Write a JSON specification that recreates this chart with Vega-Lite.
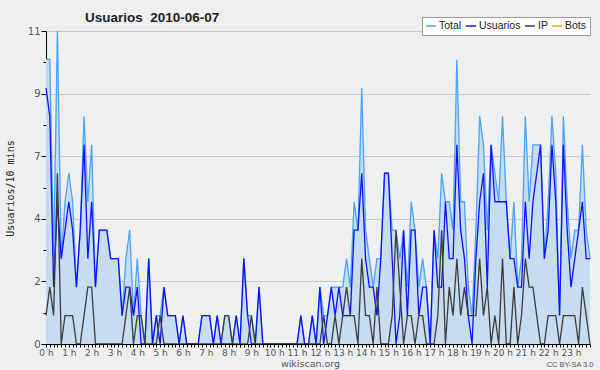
{
"$schema": "https://vega.github.io/schema/vega-lite/v6.json",
"width": 544, "height": 313,
"autosize": "none",
"padding": {"left": 46, "top": 31, "right": 10, "bottom": 26},
"background": "#eeeff1",
"config": {"view": {"stroke": null, "fill": "#eeeff1"}, "font": "DejaVu Sans"},
"title": {"text": "Usuarios\u00a0 2010-06-07", "anchor": "start", "frame": "group", "dx": 39, "dy": 18, "offset": 10, "font": "Liberation Sans", "fontSize": 13.5, "fontWeight": "bold", "color": "#222222"},
"data": {"values": [
{"m":0,"Total":10,"Usuarios":9,"IP":1},{"m":10,"Total":10,"Usuarios":8,"IP":2},{"m":20,"Total":3,"Usuarios":2,"IP":1},{"m":30,"Total":11,"Usuarios":5,"IP":6},{"m":40,"Total":3,"Usuarios":3,"IP":0},{"m":50,"Total":5,"Usuarios":4,"IP":1},{"m":60,"Total":6,"Usuarios":5,"IP":1},{"m":70,"Total":5,"Usuarios":4,"IP":1},{"m":80,"Total":2,"Usuarios":2,"IP":0},{"m":90,"Total":4,"Usuarios":4,"IP":0},
{"m":100,"Total":8,"Usuarios":7,"IP":1},{"m":110,"Total":5,"Usuarios":3,"IP":2},{"m":120,"Total":7,"Usuarios":5,"IP":2},{"m":130,"Total":2,"Usuarios":2,"IP":0},{"m":140,"Total":4,"Usuarios":4,"IP":0},{"m":150,"Total":4,"Usuarios":4,"IP":0},{"m":160,"Total":4,"Usuarios":4,"IP":0},{"m":170,"Total":3,"Usuarios":3,"IP":0},{"m":180,"Total":3,"Usuarios":3,"IP":0},{"m":190,"Total":3,"Usuarios":3,"IP":0},
{"m":200,"Total":1,"Usuarios":1,"IP":0},{"m":210,"Total":3,"Usuarios":2,"IP":1},{"m":220,"Total":4,"Usuarios":2,"IP":2},{"m":230,"Total":1,"Usuarios":1,"IP":0},{"m":240,"Total":3,"Usuarios":2,"IP":1},{"m":250,"Total":1,"Usuarios":0,"IP":1},{"m":260,"Total":0,"Usuarios":0,"IP":0},{"m":270,"Total":3,"Usuarios":3,"IP":0},{"m":280,"Total":0,"Usuarios":0,"IP":0},{"m":290,"Total":1,"Usuarios":1,"IP":0},
{"m":300,"Total":1,"Usuarios":0,"IP":1},{"m":310,"Total":2,"Usuarios":2,"IP":0},{"m":320,"Total":1,"Usuarios":1,"IP":0},{"m":330,"Total":1,"Usuarios":1,"IP":0},{"m":340,"Total":1,"Usuarios":1,"IP":0},{"m":350,"Total":0,"Usuarios":0,"IP":0},{"m":360,"Total":1,"Usuarios":1,"IP":0},{"m":370,"Total":0,"Usuarios":0,"IP":0},{"m":380,"Total":0,"Usuarios":0,"IP":0},{"m":390,"Total":0,"Usuarios":0,"IP":0},
{"m":400,"Total":0,"Usuarios":0,"IP":0},{"m":410,"Total":1,"Usuarios":1,"IP":0},{"m":420,"Total":1,"Usuarios":1,"IP":0},{"m":430,"Total":1,"Usuarios":1,"IP":0},{"m":440,"Total":0,"Usuarios":0,"IP":0},{"m":450,"Total":1,"Usuarios":1,"IP":0},{"m":460,"Total":0,"Usuarios":0,"IP":0},{"m":470,"Total":1,"Usuarios":0,"IP":1},{"m":480,"Total":1,"Usuarios":0,"IP":1},{"m":490,"Total":0,"Usuarios":0,"IP":0},
{"m":500,"Total":1,"Usuarios":1,"IP":0},{"m":510,"Total":0,"Usuarios":0,"IP":0},{"m":520,"Total":3,"Usuarios":3,"IP":0},{"m":530,"Total":1,"Usuarios":1,"IP":0},{"m":540,"Total":1,"Usuarios":0,"IP":1},{"m":550,"Total":0,"Usuarios":0,"IP":0},{"m":560,"Total":2,"Usuarios":2,"IP":0},{"m":570,"Total":0,"Usuarios":0,"IP":0},{"m":580,"Total":0,"Usuarios":0,"IP":0},{"m":590,"Total":0,"Usuarios":0,"IP":0},
{"m":600,"Total":0,"Usuarios":0,"IP":0},{"m":610,"Total":0,"Usuarios":0,"IP":0},{"m":620,"Total":0,"Usuarios":0,"IP":0},{"m":630,"Total":0,"Usuarios":0,"IP":0},{"m":640,"Total":0,"Usuarios":0,"IP":0},{"m":650,"Total":0,"Usuarios":0,"IP":0},{"m":660,"Total":0,"Usuarios":0,"IP":0},{"m":670,"Total":1,"Usuarios":1,"IP":0},{"m":680,"Total":0,"Usuarios":0,"IP":0},{"m":690,"Total":0,"Usuarios":0,"IP":0},
{"m":700,"Total":1,"Usuarios":1,"IP":0},{"m":710,"Total":0,"Usuarios":0,"IP":0},{"m":720,"Total":2,"Usuarios":2,"IP":0},{"m":730,"Total":1,"Usuarios":0,"IP":1},{"m":740,"Total":1,"Usuarios":1,"IP":0},{"m":750,"Total":2,"Usuarios":2,"IP":0},{"m":760,"Total":2,"Usuarios":1,"IP":1},{"m":770,"Total":2,"Usuarios":2,"IP":0},{"m":780,"Total":2,"Usuarios":1,"IP":1},{"m":790,"Total":3,"Usuarios":1,"IP":2},
{"m":800,"Total":2,"Usuarios":1,"IP":1},{"m":810,"Total":5,"Usuarios":4,"IP":1},{"m":820,"Total":4,"Usuarios":4,"IP":0},{"m":830,"Total":9,"Usuarios":6,"IP":3},{"m":840,"Total":4,"Usuarios":3,"IP":1},{"m":850,"Total":3,"Usuarios":2,"IP":1},{"m":860,"Total":2,"Usuarios":2,"IP":0},{"m":870,"Total":3,"Usuarios":1,"IP":2},{"m":880,"Total":3,"Usuarios":3,"IP":0},{"m":890,"Total":6,"Usuarios":6,"IP":0},
{"m":900,"Total":6,"Usuarios":6,"IP":0},{"m":910,"Total":4,"Usuarios":3,"IP":1},{"m":920,"Total":4,"Usuarios":0,"IP":4},{"m":930,"Total":3,"Usuarios":1,"IP":2},{"m":940,"Total":4,"Usuarios":4,"IP":0},{"m":950,"Total":2,"Usuarios":1,"IP":1},{"m":960,"Total":5,"Usuarios":4,"IP":1},{"m":970,"Total":4,"Usuarios":4,"IP":0},{"m":980,"Total":2,"Usuarios":1,"IP":1},{"m":990,"Total":3,"Usuarios":2,"IP":1},
{"m":1000,"Total":2,"Usuarios":2,"IP":0},{"m":1010,"Total":0,"Usuarios":0,"IP":0},{"m":1020,"Total":4,"Usuarios":4,"IP":0},{"m":1030,"Total":3,"Usuarios":2,"IP":1},{"m":1040,"Total":6,"Usuarios":2,"IP":4},{"m":1050,"Total":5,"Usuarios":5,"IP":0},{"m":1060,"Total":5,"Usuarios":3,"IP":2},{"m":1070,"Total":4,"Usuarios":3,"IP":1},{"m":1080,"Total":10,"Usuarios":7,"IP":3},{"m":1090,"Total":5,"Usuarios":4,"IP":1},
{"m":1100,"Total":5,"Usuarios":3,"IP":2},{"m":1110,"Total":2,"Usuarios":1,"IP":1},{"m":1120,"Total":1,"Usuarios":0,"IP":1},{"m":1130,"Total":4,"Usuarios":3,"IP":1},{"m":1140,"Total":8,"Usuarios":5,"IP":3},{"m":1150,"Total":7,"Usuarios":6,"IP":1},{"m":1160,"Total":4,"Usuarios":2,"IP":2},{"m":1170,"Total":7,"Usuarios":7,"IP":0},{"m":1180,"Total":6,"Usuarios":5,"IP":1},{"m":1190,"Total":5,"Usuarios":5,"IP":0},
{"m":1200,"Total":8,"Usuarios":5,"IP":3},{"m":1210,"Total":5,"Usuarios":5,"IP":0},{"m":1220,"Total":3,"Usuarios":3,"IP":0},{"m":1230,"Total":5,"Usuarios":3,"IP":2},{"m":1240,"Total":2,"Usuarios":2,"IP":0},{"m":1250,"Total":3,"Usuarios":2,"IP":1},{"m":1260,"Total":8,"Usuarios":5,"IP":3},{"m":1270,"Total":5,"Usuarios":3,"IP":2},{"m":1280,"Total":7,"Usuarios":5,"IP":2},{"m":1290,"Total":7,"Usuarios":6,"IP":1},
{"m":1300,"Total":7,"Usuarios":7,"IP":0},{"m":1310,"Total":3,"Usuarios":3,"IP":0},{"m":1320,"Total":5,"Usuarios":4,"IP":1},{"m":1330,"Total":8,"Usuarios":7,"IP":1},{"m":1340,"Total":6,"Usuarios":5,"IP":1},{"m":1350,"Total":1,"Usuarios":1,"IP":0},{"m":1360,"Total":8,"Usuarios":7,"IP":1},{"m":1370,"Total":5,"Usuarios":4,"IP":1},{"m":1380,"Total":3,"Usuarios":2,"IP":1},{"m":1390,"Total":4,"Usuarios":3,"IP":1},
{"m":1400,"Total":4,"Usuarios":4,"IP":0},{"m":1410,"Total":7,"Usuarios":5,"IP":2},{"m":1420,"Total":4,"Usuarios":3,"IP":1},{"m":1430,"Total":3,"Usuarios":3,"IP":0}
]},
"encoding": {
  "x": {"field": "m", "type": "quantitative", "scale": {"domain": [0, 1430], "nice": false, "zero": false},
    "axis": {"values": [0,10,20,30,40,50,60,70,80,90,100,110,120,130,140,150,160,170,180,190,200,210,220,230,240,250,260,270,280,290,300,310,320,330,340,350,360,370,380,390,400,410,420,430,440,450,460,470,480,490,500,510,520,530,540,550,560,570,580,590,600,610,620,630,640,650,660,670,680,690,700,710,720,730,740,750,760,770,780,790,800,810,820,830,840,850,860,870,880,890,900,910,920,930,940,950,960,970,980,990,1000,1010,1020,1030,1040,1050,1060,1070,1080,1090,1100,1110,1120,1130,1140,1150,1160,1170,1180,1190,1200,1210,1220,1230,1240,1250,1260,1270,1280,1290,1300,1310,1320,1330,1340,1350,1360,1370,1380,1390,1400,1410,1420,1430],
      "labelExpr": "datum.value % 60 == 0 ? (datum.value / 60) + ' h' : ''",
      "labelOverlap": false, "labelFlush": false, "labelFont": "DejaVu Sans", "labelFontSize": 9, "labelColor": "#555555", "labelPadding": 1,
      "tickSize": 3, "tickColor": "#000000", "domainColor": "#000000", "grid": false, "zindex": 1,
      "title": "wikiscan.org", "titleFont": "DejaVu Sans", "titleFontSize": 9.5, "titleFontWeight": "normal", "titleColor": "#555555",
      "titleX": 264, "titleY": 22, "titleBaseline": "alphabetic", "titleAlign": "center"}}
},
"layer": [
  {"mark": {"type": "area", "color": "#c6dcf0", "opacity": 1, "interpolate": "linear"},
   "encoding": {"y": {"field": "Total", "type": "quantitative", "scale": {"domain": [0, 11], "nice": false, "zero": true},
     "axis": {"values": [0,1.1,2.2,3.3,4.4,5.5,6.6,7.7,8.8,9.9,11],
       "labelExpr": "indexof([0,2.2,4.4,6.6,8.8,11], datum.value) >= 0 ? format(datum.value, '.0f') : ''",
       "labelFont": "DejaVu Sans", "labelFontSize": 10, "labelColor": "#555555", "labelPadding": 1, "labelOverlap": false,
       "tickColor": "#000000", "tickSize": {"condition": {"test": "indexof([0,2.2,4.4,6.6,8.8,11], datum.value) >= 0", "value": 5}, "value": 3},
       "domainColor": "#000000",
       "grid": true, "gridColor": "#c8c8c8", "gridOpacity": {"condition": {"test": "indexof([2.2,4.4,6.6,8.8,11], datum.value) >= 0", "value": 1}, "value": 0},
       "title": "Usuarios/10 mins", "titleFont": "DejaVu Sans Mono", "titleFontSize": 10, "titleFontWeight": "normal", "titleColor": "#222222",
       "titleAngle": -90, "titleX": -36, "titleY": 157, "titleBaseline": "middle", "titleAlign": "center"}}}},
  {"mark": {"type": "line", "strokeWidth": 1.3},
   "encoding": {"y": {"field": "Total", "type": "quantitative", "axis": null},
     "color": {"datum": "Total", "type": "nominal",
       "scale": {"domain": ["Total", "Usuarios", "IP", "Bots"], "range": ["#4aa3f5", "#1010ff", "#3c3c3c", "#ffa500"]},
       "legend": {"orient": "none", "legendX": 376, "legendY": -14, "direction": "horizontal", "title": null,
         "symbolType": "stroke", "symbolSize": 100, "symbolStrokeWidth": 1.5, "gridAlign": "none",
         "labelFont": "Liberation Sans", "labelFontSize": 10.5, "labelColor": "#222222", "labelOffset": 2, "columnPadding": 1,
         "fillColor": "#ffffff", "strokeColor": "#999999", "padding": 3}}}},
  {"mark": {"type": "line", "strokeWidth": 1.3},
   "encoding": {"y": {"field": "Usuarios", "type": "quantitative", "axis": null}, "color": {"datum": "Usuarios", "type": "nominal"}}},
  {"mark": {"type": "line", "strokeWidth": 1.3},
   "encoding": {"y": {"field": "IP", "type": "quantitative",
     "axis": {"orient": "right", "domain": false, "ticks": false, "labels": false, "grid": false,
       "title": "CC BY-SA 3.0", "titleAngle": 0, "titleFont": "Liberation Sans", "titleFontSize": 7.5, "titleFontWeight": "normal", "titleColor": "#555555",
       "titleX": 3, "titleY": 335, "titleAlign": "right", "titleBaseline": "alphabetic"}},
     "color": {"datum": "IP", "type": "nominal"}}}
],
"resolve": {"axis": {"y": "independent"}}
}
